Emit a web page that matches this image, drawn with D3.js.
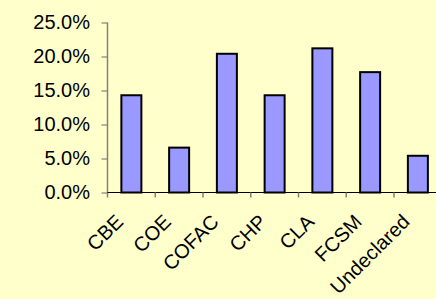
<!DOCTYPE html>
<html>
<head>
<meta charset="utf-8">
<script src="https://cdn.jsdelivr.net/npm/d3@7"></script>
<style>
html,body{margin:0;padding:0;background:#FFFFCC;}
svg{display:block;}
</style>
</head>
<body>
<script>
const categories = ["CBE","COE","COFAC","CHP","CLA","FCSM","Undeclared"];
const values = [0.143,0.066,0.204,0.143,0.212,0.177,0.054];
const yTicks = [0,0.05,0.10,0.15,0.20,0.25];

const W = 436, H = 299;
const svg = d3.select("body").append("svg").attr("width",W).attr("height",H);
svg.append("rect").attr("width",W).attr("height",H).attr("fill","#FFFFCC");

const x0 = 107.5, y0 = 192.5, yTop = 22.5;
const step = 47.75;
const x = d3.scaleBand().domain(categories).range([x0, x0 + step*categories.length]).padding(0);
const y = d3.scaleLinear().domain([0,0.25]).range([y0,yTop]);

// bars
const barW = 20;
svg.append("g").selectAll("rect").data(categories).join("rect")
  .attr("x", d => x(d) + (x.bandwidth()-barW)/2)
  .attr("y", (d,i) => y(values[i]))
  .attr("width", barW)
  .attr("height", (d,i) => y0 - y(values[i]))
  .attr("fill","#9999FF")
  .attr("stroke","#000")
  .attr("stroke-width",2);

// y axis
const yAxis = d3.axisLeft(y).tickValues(yTicks).tickFormat(d3.format(".1%")).tickSize(6).tickPadding(11.5);
const gy = svg.append("g").attr("transform",`translate(${x0},0)`).call(yAxis);
gy.select(".domain").remove();
gy.selectAll(".tick line").attr("stroke","#808080").attr("stroke-width",1.2);
gy.selectAll(".tick text").attr("font-family","Arial, 'Liberation Sans', sans-serif").attr("font-size",20).attr("fill","#000");
svg.append("line").attr("x1",x0).attr("x2",x0).attr("y1",yTop).attr("y2",y0+5).attr("stroke","#808080").attr("stroke-width",1.5);

// x axis
svg.append("line").attr("x1",x0).attr("x2",W).attr("y1",y0).attr("y2",y0).attr("stroke","#000").attr("stroke-width",1.2);
svg.append("g").selectAll("line").data(categories.slice(1)).join("line")
  .attr("x1", d => x(d)).attr("x2", d => x(d))
  .attr("y1", y0).attr("y2", y0+5)
  .attr("stroke","#808080").attr("stroke-width",1.5);

svg.append("g").selectAll("text").data(categories).join("text")
  .attr("transform", d => `translate(${x(d)+x.bandwidth()/2-7},223) rotate(-45)`)
  .attr("text-anchor","end")
  .attr("font-family","Arial, 'Liberation Sans', sans-serif")
  .attr("font-size",20)
  .attr("fill","#000")
  .text(d => d);
</script>
</body>
</html>
